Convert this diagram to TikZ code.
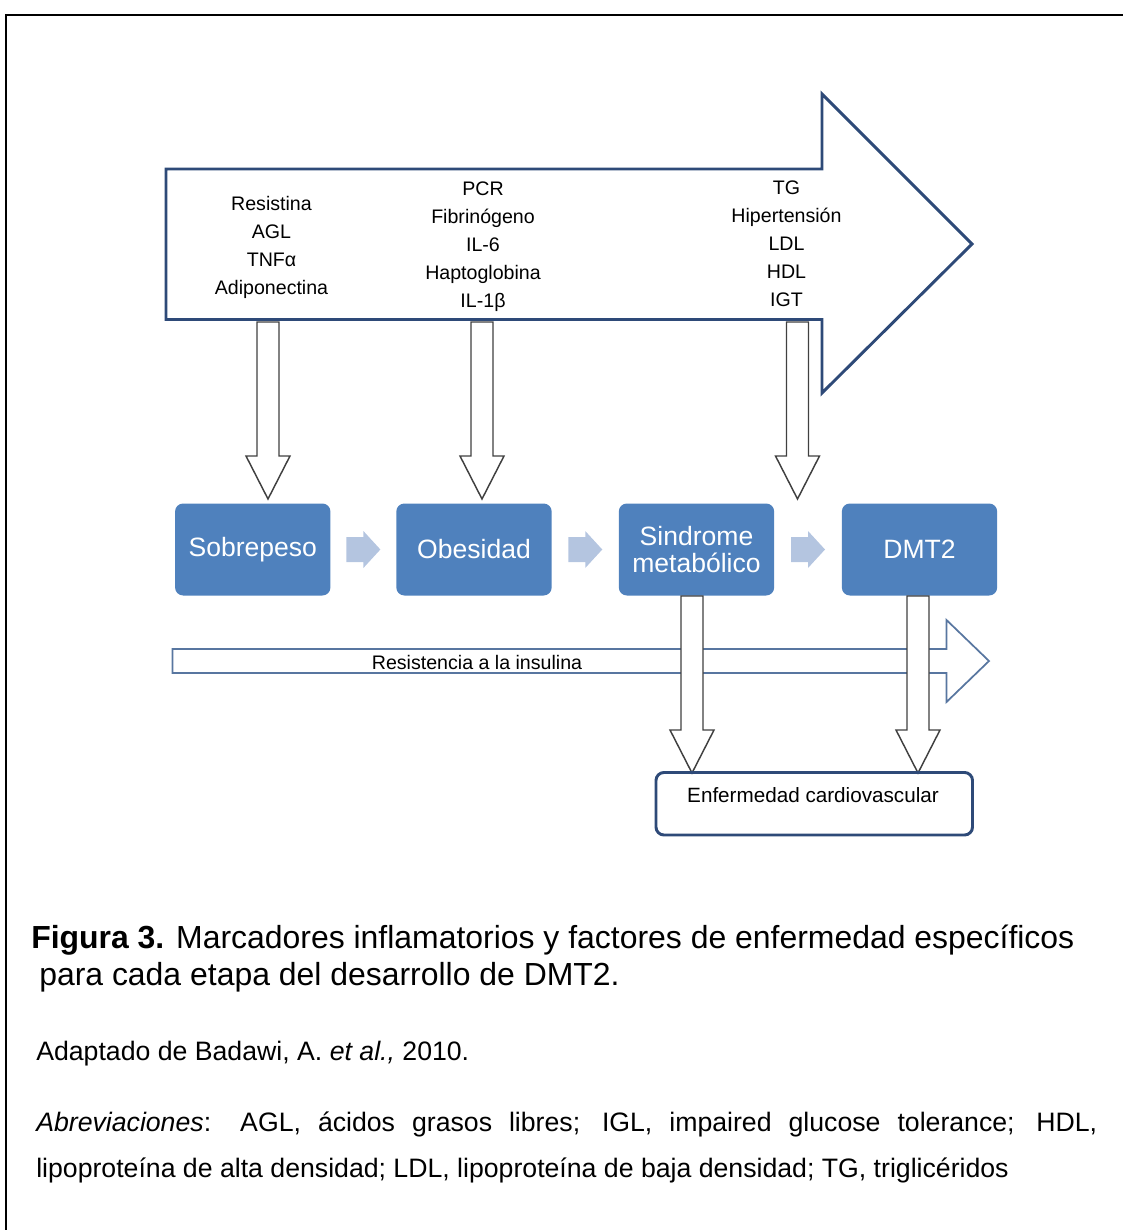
\documentclass[tikz,border=0pt]{standalone}
\usepackage{fontspec}
\setmainfont{Liberation Sans}
\usetikzlibrary{calc}
\definecolor{navy}{RGB}{46,74,120}
\definecolor{stageblue}{RGB}{79,129,189}
\definecolor{flowlight}{RGB}{180,197,224}
\definecolor{steel}{RGB}{88,118,160}
\definecolor{arrgray}{RGB}{64,64,64}
\tikzset{
  marker/.style={align=center, font=\fontsize{14.7}{21}\selectfont, text=black, inner sep=0pt},
  stage/.style={fill=stageblue, rounded corners=6pt, minimum width=116.5pt, minimum height=69pt,
    text=white, align=center, font=\fontsize{19.9}{20.3}\selectfont, inner sep=0pt},
  captext/.style={anchor=base west, inner sep=0pt, text=black},
  blockdown/.pic={\draw[arrgray, fill=white, line width=1.1pt, line join=miter]
    (-11,0) -- (11,0) -- (11,134) -- (22,134) -- (0,177) -- (-22,134) -- (-11,134) -- cycle;},
  flowarr/.pic={\fill[flowlight] (-17,-12.5) -- (0,-12.5) -- (0,-18.5) -- (17,0) -- (0,18.5)
    -- (0,12.5) -- (-17,12.5) -- cycle;},
}
\begin{document}
\begin{tikzpicture}[x=0.75pt,y=-0.75pt]
\useasboundingbox (0,0) rectangle (1123,1230);
\clip (0,0) rectangle (1123,1230);
% frame
\draw[line width=1.5pt] (6,15) rectangle (1140,1250);

% big arrow
\draw[navy, line width=2.2pt, fill=white, line join=miter]
  (166,169) -- (822,169) -- (822,94) -- (972,244) -- (822,393) -- (822,319.5) -- (166,319.5) -- cycle;

\node[marker] (m1) at (271.5,247) {Resistina\\AGL\\TNFα\\Adiponectina};
\node[marker] (m2) at (483,247) {PCR\\Fibrinógeno\\IL-6\\Haptoglobina\\IL-1β};
\node[marker] (m3) at (786.5,244) {TG\\Hipertensión\\LDL\\HDL\\IGT};

% down arrows from big arrow
\pic at (268,322) {blockdown};
\pic at (482,322) {blockdown};
\pic at (797.5,322) {blockdown};

% stages
\node[stage] (s1) at (252.75,549.5) {Sobrepeso};
\node[stage] (s2) at (474,549.5) {Obesidad};
\node[stage] (s3) at (696.5,549.5) {Sindrome\\metabólico};
\node[stage] (s4) at (919.5,549.5) {DMT2};

\pic at ($(s1.east)!0.5!(s2.west)$) {flowarr};
\pic at ($(s2.east)!0.5!(s3.west)$) {flowarr};
\pic at ($(s3.east)!0.5!(s4.west)$) {flowarr};

% insulin resistance arrow
\draw[steel, line width=1.3pt, fill=white, line join=miter]
  (172.5,649) -- (946.5,649) -- (946.5,620) -- (989,661) -- (946.5,702) -- (946.5,673) -- (172.5,673) -- cycle;
\node[marker] (ri) at (477,662) {Resistencia a la insulina};

% down arrows to cardiovascular disease
\pic at (692,596) {blockdown};
\pic at (918,596) {blockdown};

\node[draw=navy, line width=2.2pt, rounded corners=6pt, minimum width=237.4pt, minimum height=46.9pt, inner sep=0pt]
  (ecv) at (814.25,803.75) {};
\node[marker, font=\fontsize{15.5}{19}\selectfont] (ecvt) at (813,795) {Enfermedad cardiovascular};

% caption
\node[captext, font=\fontsize{23.95}{28}\selectfont] (cap1) at (31,948)
  {\textbf{Figura 3.} Marcadores inflamatorios y factores de enfermedad específicos};
\node[captext, font=\fontsize{23.95}{28}\selectfont] (cap2) at (39,985)
  {para cada etapa del desarrollo de DMT2.};
\node[captext, font=\fontsize{20}{24}\selectfont] (src) at (36,1060)
  {Adaptado de Badawi, A. \textit{et al.,} 2010.};
\node[captext, font=\fontsize{20}{24}\selectfont] (ab1) at (36,1131)
  {\makebox[795.75pt][s]{\textit{Abreviaciones}: AGL, ácidos grasos libres; IGL, impaired glucose tolerance; HDL,}};
\node[captext, font=\fontsize{20}{24}\selectfont] (ab2) at (36,1177)
  {lipoproteína de alta densidad; LDL, lipoproteína de baja densidad; TG, triglicéridos};
\end{tikzpicture}
\end{document}
